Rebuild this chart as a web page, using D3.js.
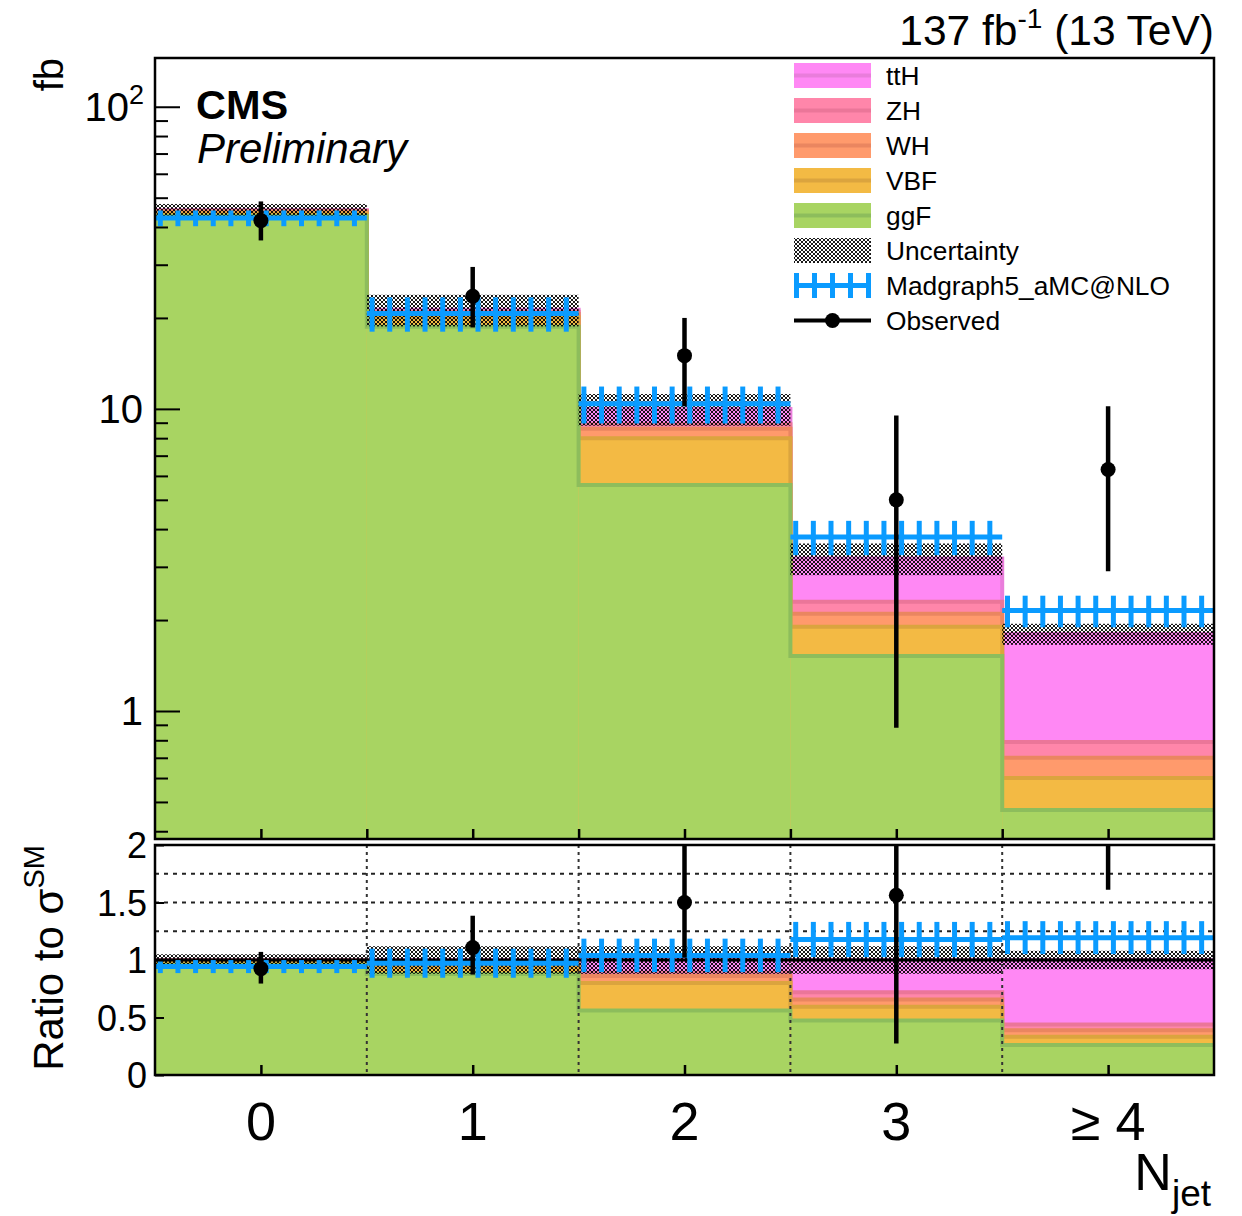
<!DOCTYPE html>
<html>
<head>
<meta charset="utf-8">
<script src="https://cdn.jsdelivr.net/npm/d3@7"></script>
<style>
  body { margin: 0; background: #fff; }
  svg { display: block; }
  text { font-family: "Liberation Sans", Arial, Helvetica, sans-serif; fill: #000; }
</style>
</head>
<body>
<svg id="chart" width="1242" height="1216"></svg>
<script>
// ---- data: differential Higgs cross section vs number of jets (fb) ----
const categories = ["0", "1", "2", "3", "\u2265 4"];

const ggF = [43.5, 18.7, 5.6, 1.52, 0.47];
const VBF = [0.8, 1.4, 2.4, 0.38, 0.13];
const WH  = [0.6, 0.5, 0.6, 0.20, 0.10];
const ZH  = [0.4, 0.35, 0.3, 0.20, 0.09];
const ttH = [0.1, 0.35, 1.1, 0.90, 1.01];

const stackRelUnc = [0.05, 0.12, 0.12, 0.12, 0.08];

const mg5       = [42.8, 20.7, 10.4, 3.77, 2.15];
const mg5RelUnc = [0.06, 0.13, 0.14, 0.13, 0.12];

const observed     = [42.0, 23.6, 15.0, 5.0, 6.3];
const observedUp   = [48.6, 29.5, 20.0, 9.5, 10.2];
const observedDown = [36.1, 18.6, 10.2, 0.88, 2.9];

const yTickValues = [1, 10, 100];
const yTickLabels = ["1", "10", "10^2"];
const ratioTickValues = [0, 0.5, 1, 1.5, 2];
const ratioTickLabels = ["0", "0.5", "1", "1.5", "2"];
const ratioGridValues = [1.25, 1.5, 1.75];

// ---- styles ----
const processes = [
  { name: "ggF", values: ggF, fill: "#a8d462", line: "#8dbd5c" },
  { name: "VBF", values: VBF, fill: "#f3ba44", line: "#dba43e" },
  { name: "WH",  values: WH,  fill: "#ff9a6c", line: "#ea8660" },
  { name: "ZH",  values: ZH,  fill: "#ff86aa", line: "#eb7699" },
  { name: "ttH", values: ttH, fill: "#ff88f4", line: "#e97ddb" }
];
const mgBlue = "#0a9bff";

const svg = d3.select("#chart");
const defs = svg.append("defs");

// dense cross hatch for the prediction uncertainty
const hatch = defs.append("pattern").attr("id", "hatch")
  .attr("patternUnits", "userSpaceOnUse").attr("width", 4).attr("height", 4);
hatch.append("path").attr("d", "M-1,1 l2,-2 M0,4 l4,-4 M3,5 l2,-2")
  .attr("stroke", "#000").attr("stroke-width", 0.9);
hatch.append("path").attr("d", "M-1,3 l2,2 M0,0 l4,4 M3,-1 l2,2")
  .attr("stroke", "#000").attr("stroke-width", 0.9);

// ---- layout & scales ----
const L = 155, R = 1214;
const mainTop = 58, mainBot = 839;
const ratTop = 845, ratBot = 1075;

const x = d3.scaleLinear().domain([-0.5, 4.5]).range([L, R]);
const y = d3.scaleLog().domain([0.377, 145]).range([mainBot, mainTop]);
const yr = d3.scaleLinear().domain([0, 2]).range([ratBot, ratTop]);

defs.append("clipPath").attr("id", "clipMain")
  .append("rect").attr("x", L).attr("y", mainTop).attr("width", R - L).attr("height", mainBot - mainTop);
defs.append("clipPath").attr("id", "clipRatio")
  .append("rect").attr("x", L).attr("y", ratTop).attr("width", R - L).attr("height", ratBot - ratTop);

const bins = d3.range(categories.length);

// cumulative stack tops
const cumul = [];
processes.forEach((p, j) => {
  cumul.push(bins.map(i => (j ? cumul[j - 1][i] : 0) + p.values[i]));
});
const total = cumul[cumul.length - 1];

function stepPoints(vals) {
  const pts = [];
  bins.forEach(i => { pts.push([i - 0.5, vals[i]]); pts.push([i + 0.5, vals[i]]); });
  return pts;
}

// draws the stacked histograms: cumulative fills from the top process downward
function drawStack(g, ys, base, valueFn) {
  for (let j = processes.length - 1; j >= 0; j--) {
    const p = processes[j];
    const vals = bins.map(i => valueFn(cumul[j][i], i));
    g.append("g").selectAll("rect").data(bins).join("rect")
      .attr("x", i => x(i - 0.5))
      .attr("width", i => x(i + 0.5) - x(i - 0.5))
      .attr("y", i => ys(vals[i]))
      .attr("height", i => base - ys(vals[i]))
      .attr("fill", p.fill);
    g.append("path")
      .attr("d", d3.line().x(d => x(d[0])).y(d => ys(d[1]))(stepPoints(vals)))
      .attr("fill", "none").attr("stroke", p.line).attr("stroke-width", 4);
  }
}

function drawHatch(g, ys, center, rel) {
  g.append("g").selectAll("rect").data(bins).join("rect")
    .attr("x", i => x(i - 0.5))
    .attr("width", i => x(i + 0.5) - x(i - 0.5))
    .attr("y", i => ys(center[i] * (1 + rel[i])))
    .attr("height", i => ys(center[i] * (1 - rel[i])) - ys(center[i] * (1 + rel[i])))
    .attr("fill", "url(#hatch)");
}

const subTicks = d3.range(12).map(k => (k + 0.3) / 12);
function drawMG(g, ys, vals, rel) {
  const mg = g.append("g").attr("stroke", mgBlue).attr("stroke-width", 5);
  mg.selectAll("line.h").data(bins).join("line").attr("class", "h")
    .attr("x1", i => x(i - 0.5)).attr("x2", i => x(i + 0.5))
    .attr("y1", i => ys(vals[i])).attr("y2", i => ys(vals[i]));
  const bars = [];
  bins.forEach(i => subTicks.forEach(f => bars.push({ i, xv: i - 0.5 + f })));
  mg.selectAll("line.v").data(bars).join("line").attr("class", "v")
    .attr("x1", d => x(d.xv)).attr("x2", d => x(d.xv))
    .attr("y1", d => ys(vals[d.i] * (1 + rel[d.i])))
    .attr("y2", d => ys(vals[d.i] * (1 - rel[d.i])));
}

function drawObserved(g, ys, c, up, dn) {
  const o = g.append("g");
  o.selectAll("line").data(bins).join("line")
    .attr("x1", i => x(i)).attr("x2", i => x(i))
    .attr("y1", i => ys(up[i])).attr("y2", i => ys(dn[i]))
    .attr("stroke", "#000").attr("stroke-width", 4.5);
  o.selectAll("circle").data(bins).join("circle")
    .attr("cx", i => x(i)).attr("cy", i => ys(c[i])).attr("r", 7.5).attr("fill", "#000");
}

// ================= main panel =================
const main = svg.append("g").attr("clip-path", "url(#clipMain)");
drawStack(main, y, mainBot, v => v);
drawHatch(main, y, total, stackRelUnc);
drawMG(main, y, mg5, mg5RelUnc);
drawObserved(main, y, observed, observedUp, observedDown);

// axes of main panel
const minorTicks = y.ticks().filter(v => !yTickValues.includes(v));
svg.append("g").attr("transform", `translate(${L},0)`)
  .call(d3.axisLeft(y).tickValues(yTickValues).tickSize(-25).tickFormat(""))
  .call(a => a.select(".domain").remove())
  .selectAll("line").attr("stroke", "#000").attr("stroke-width", 2);
svg.append("g").attr("transform", `translate(${L},0)`)
  .call(d3.axisLeft(y).tickValues(minorTicks).tickSize(-13).tickFormat(""))
  .call(a => a.select(".domain").remove())
  .selectAll("line").attr("stroke", "#000").attr("stroke-width", 2);
svg.append("g").attr("transform", `translate(0,${mainBot})`)
  .call(d3.axisBottom(x).tickValues(d3.range(0, 4.01, 0.5)).tickSize(-10).tickFormat(""))
  .call(a => a.select(".domain").remove())
  .selectAll("line").attr("stroke", "#000").attr("stroke-width", 2.5);

const yLab = svg.append("g").attr("font-size", 40).attr("text-anchor", "end");
yTickValues.forEach((v, k) => {
  const parts = yTickLabels[k].split("^");
  const t = yLab.append("text").attr("x", parts.length > 1 ? 144 : 143).attr("y", y(v) + 14);
  t.append("tspan").text(parts[0]);
  if (parts.length > 1) t.append("tspan").attr("font-size", 27).attr("dy", -17).text(parts[1]);
});

svg.append("rect").attr("x", L).attr("y", mainTop).attr("width", R - L).attr("height", mainBot - mainTop)
  .attr("fill", "none").attr("stroke", "#000").attr("stroke-width", 2.5);

// ================= ratio panel =================
const ratio = svg.append("g").attr("clip-path", "url(#clipRatio)");
drawStack(ratio, yr, ratBot, (v, i) => v / total[i]);
drawHatch(ratio, yr, bins.map(() => 1), stackRelUnc);

// grid
ratio.append("g").selectAll("line").data(ratioGridValues).join("line")
  .attr("x1", L).attr("x2", R).attr("y1", d => yr(d)).attr("y2", d => yr(d))
  .attr("stroke", "#222").attr("stroke-width", 2).attr("stroke-dasharray", "4,5");
ratio.append("g").selectAll("line").data([0.5, 1.5, 2.5, 3.5]).join("line")
  .attr("x1", d => x(d)).attr("x2", d => x(d)).attr("y1", ratTop).attr("y2", ratBot)
  .attr("stroke", "#333").attr("stroke-width", 2).attr("stroke-dasharray", "3,4");

ratio.append("line").attr("x1", L).attr("x2", R).attr("y1", yr(1)).attr("y2", yr(1))
  .attr("stroke", "#000").attr("stroke-width", 3);

drawMG(ratio, yr, bins.map(i => mg5[i] / total[i]), mg5RelUnc);
drawObserved(ratio, yr,
  bins.map(i => observed[i] / total[i]),
  bins.map(i => observedUp[i] / total[i]),
  bins.map(i => observedDown[i] / total[i]));

svg.append("g").attr("transform", `translate(${L},0)`)
  .call(d3.axisLeft(yr).tickValues(ratioTickValues).tickSize(-9).tickFormat(""))
  .call(a => a.select(".domain").remove())
  .selectAll("line").attr("stroke", "#000").attr("stroke-width", 2);
svg.append("g").attr("transform", `translate(0,${ratBot})`)
  .call(d3.axisBottom(x).tickValues(bins).tickSize(-10).tickFormat(""))
  .call(a => a.select(".domain").remove())
  .selectAll("line").attr("stroke", "#000").attr("stroke-width", 2.5);

svg.append("g").attr("font-size", 36).attr("text-anchor", "end")
  .selectAll("text").data(ratioTickValues).join("text")
  .attr("x", 147).attr("y", d => yr(d) + 13).text((d, k) => ratioTickLabels[k]);

svg.append("rect").attr("x", L).attr("y", ratTop).attr("width", R - L).attr("height", ratBot - ratTop)
  .attr("fill", "none").attr("stroke", "#000").attr("stroke-width", 2.5);

// x category labels
svg.append("g").attr("font-size", 54).attr("text-anchor", "middle")
  .selectAll("text").data(bins).join("text")
  .attr("x", i => x(i)).attr("y", 1140).text(i => categories[i]);

// ================= titles =================
const lumi = svg.append("text").attr("x", 1214).attr("y", 45).attr("font-size", 42.5).attr("text-anchor", "end");
lumi.append("tspan").text("137 fb");
lumi.append("tspan").attr("font-size", 28).attr("dy", -17).text("-1");
lumi.append("tspan").attr("dy", 17).text(" (13 TeV)");

svg.append("text").attr("font-size", 40).attr("text-anchor", "end")
  .attr("transform", "translate(63,58) rotate(-90)").text("fb");

const rl = svg.append("text").attr("font-size", 42).attr("text-anchor", "end")
  .attr("transform", "translate(63,845) rotate(-90)");
rl.append("tspan").text("Ratio to \u03c3");
rl.append("tspan").attr("font-size", 29).attr("dy", -19).text("SM");

svg.append("text").attr("x", 196).attr("y", 119).attr("font-size", 41.5).attr("font-weight", "bold").text("CMS");
svg.append("text").attr("x", 197).attr("y", 163).attr("font-size", 42).attr("font-style", "italic").text("Preliminary");

const nj = svg.append("text").attr("x", 1211).attr("y", 1190).attr("font-size", 52).attr("text-anchor", "end");
nj.append("tspan").text("N");
nj.append("tspan").attr("font-size", 37).attr("dy", 16).text("jet");

// ================= legend =================
const legX = 794, legW = 77, legH = 25, legY0 = 75.5, legDy = 35;
const legend = svg.append("g");
const entries = [
  ...processes.slice().reverse().map(p => ({ kind: "fill", label: p.name, p })),
  { kind: "hatch", label: "Uncertainty" },
  { kind: "mg", label: "Madgraph5_aMC@NLO" },
  { kind: "obs", label: "Observed" }
];
entries.forEach((e, k) => {
  const cy = legY0 + k * legDy;
  const g = legend.append("g");
  if (e.kind === "fill") {
    g.append("rect").attr("x", legX).attr("y", cy - legH / 2).attr("width", legW).attr("height", legH).attr("fill", e.p.fill);
    g.append("line").attr("x1", legX).attr("x2", legX + legW).attr("y1", cy).attr("y2", cy)
      .attr("stroke", e.p.line).attr("stroke-width", 4);
  } else if (e.kind === "hatch") {
    g.append("rect").attr("x", legX).attr("y", cy - legH / 2).attr("width", legW).attr("height", legH).attr("fill", "url(#hatch)");
  } else if (e.kind === "mg") {
    g.append("line").attr("x1", legX).attr("x2", legX + legW).attr("y1", cy).attr("y2", cy)
      .attr("stroke", mgBlue).attr("stroke-width", 5);
    g.selectAll("line.v").data(d3.range(5)).join("line").attr("class", "v")
      .attr("x1", d => legX + 2.5 + d * (legW - 5) / 4).attr("x2", d => legX + 2.5 + d * (legW - 5) / 4)
      .attr("y1", cy - legH / 2).attr("y2", cy + legH / 2)
      .attr("stroke", mgBlue).attr("stroke-width", 5);
  } else {
    g.append("line").attr("x1", legX).attr("x2", legX + legW).attr("y1", cy).attr("y2", cy)
      .attr("stroke", "#000").attr("stroke-width", 4);
    g.append("circle").attr("cx", legX + legW / 2).attr("cy", cy).attr("r", 7.5).attr("fill", "#000");
  }
  g.append("text").attr("x", 886).attr("y", cy + 9).attr("font-size", 26.3).text(e.label);
});
</script>
</body>
</html>
